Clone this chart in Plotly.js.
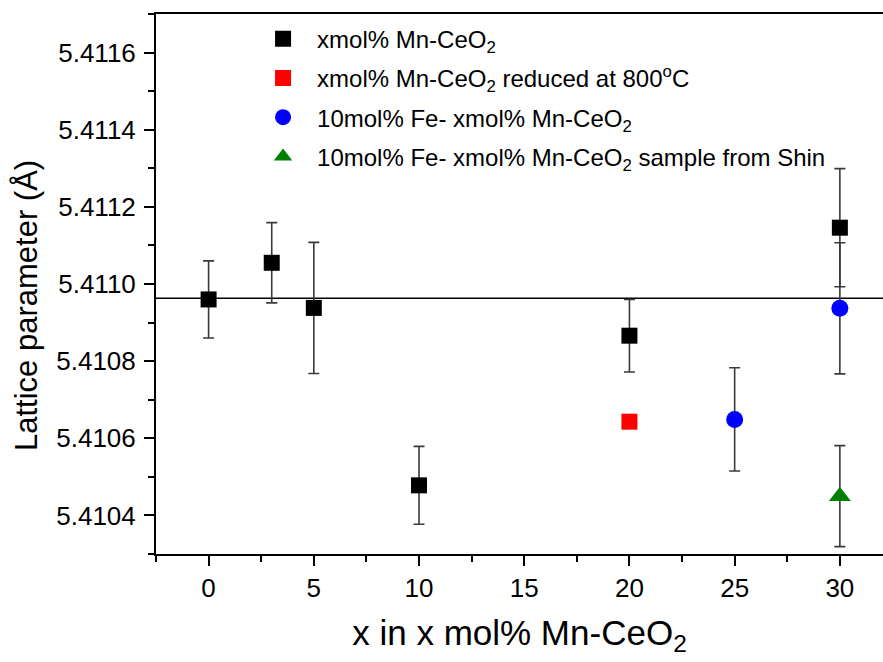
<!DOCTYPE html>
<html>
<head>
<meta charset="utf-8">
<script src="https://cdn.plot.ly/plotly-3.0.1.min.js"></script>
<style>html,body{margin:0;padding:0;background:#fff;}#chart{width:883px;height:662px;}</style>
</head>
<body>
<div id="chart"></div>
<script>
// Data
const mnX = [0, 3, 5, 10, 20, 30];
const mnY = [5.41096, 5.411055, 5.410938, 5.410478, 5.410866, 5.411146];
const mnErr = [0.0001, 0.000104, 0.00017, 0.000101, 0.000094, 0.000153];

const reducedX = [20];
const reducedY = [5.410643];

const feX = [25, 30];
const feY = [5.410649, 5.410937];
const feErr = [0.000134, 0.00017];

const shinX = [30];
const shinY = [5.41045];
const shinErr = [0.000131];

const refLineY = 5.410963;

const seriesNames = [
  "xmol% Mn-CeO<sub>2</sub>",
  "xmol% Mn-CeO<sub>2</sub> reduced at 800<sup>o</sup>C",
  "10mol% Fe- xmol% Mn-CeO<sub>2</sub>",
  "10mol% Fe- xmol% Mn-CeO<sub>2</sub> sample from Shin"
];
const xTitle = 'x in x mol% Mn-CeO<sub>2</sub>';
const yTitle = 'Lattice parameter (Å)';

const errStyle = {color: '#3a3a3a', thickness: 1.6, width: 5.5};

const traces = [
  {x: mnX, y: mnY, name: seriesNames[0], type: 'scatter', mode: 'markers', legendgroup: 'a',
   marker: {symbol: 'square', size: 16, color: '#000000'},
   error_y: Object.assign({type: 'data', array: mnErr, visible: true}, errStyle)},
  {x: reducedX, y: reducedY, name: seriesNames[1], type: 'scatter', mode: 'markers', legendgroup: 'b',
   marker: {symbol: 'square', size: 16, color: '#ff0000'}},
  {x: feX, y: feY, name: seriesNames[2], type: 'scatter', mode: 'markers', legendgroup: 'c',
   marker: {symbol: 'circle', size: 17, color: '#0000ff'},
   error_y: Object.assign({type: 'data', array: feErr, visible: true}, errStyle)},
  {x: shinX, y: shinY, name: seriesNames[3], type: 'scatter', mode: 'markers', legendgroup: 'd',
   marker: {symbol: 'triangle-up', size: 19, color: '#008000'},
   error_y: Object.assign({type: 'data', array: shinErr, visible: true}, errStyle)}
];

const font = 'Arial, "Liberation Sans", sans-serif';

const layout = {
  width: 883, height: 662,
  paper_bgcolor: '#ffffff', plot_bgcolor: '#ffffff',
  margin: {l: 156, r: 0, t: 14, b: 108},
  font: {family: font, color: '#000000'},
  showlegend: true,
  legend: {
    x: 0.128, y: 0.995, xanchor: 'left', yanchor: 'top',
    bgcolor: 'rgba(0,0,0,0)', borderwidth: 0,
    font: {family: font, size: 24, color: '#000000'},
    traceorder: 'grouped', tracegroupgap: 5, itemwidth: 58
  },
  xaxis: {
    range: [-2.5, 32.05], tickmode: 'linear', tick0: 0, dtick: 5,
    showgrid: false, zeroline: false,
    showline: true, linecolor: '#000000', linewidth: 2, mirror: true,
    ticks: 'outside', ticklen: 10, tickwidth: 2, tickcolor: '#000000',
    minor: {dtick: 2.5, tick0: 0, ticks: 'outside', ticklen: 6, tickwidth: 2, tickcolor: '#000000', showgrid: false},
    tickfont: {family: font, size: 26, color: '#000000'},
    title: {text: xTitle, font: {family: font, size: 35, color: '#000000'}, standoff: 18}
  },
  yaxis: {
    range: [5.4103, 5.4117], tickmode: 'linear', tick0: 5.4104, dtick: 0.0002, tickformat: '.4f',
    showgrid: false, zeroline: false,
    showline: true, linecolor: '#000000', linewidth: 2, mirror: false,
    ticks: 'outside', ticklen: 10, tickwidth: 2, tickcolor: '#000000',
    ticklabelstandoff: 3,
    minor: {dtick: 0.0001, tick0: 5.4104, ticks: 'outside', ticklen: 6, tickwidth: 2, tickcolor: '#000000', showgrid: false},
    tickfont: {family: font, size: 26, color: '#000000'}
  },
  annotations: [
    {text: yTitle, xref: 'paper', yref: 'paper', x: 0, y: 0.4593, xshift: -129,
     xanchor: 'center', yanchor: 'middle', textangle: -90, showarrow: false,
     font: {family: font, size: 31, color: '#000000'}}
  ],
  shapes: [
    {type: 'line', xref: 'paper', x0: 0, x1: 1, yref: 'y', y0: refLineY, y1: refLineY,
     line: {color: '#000000', width: 1.3}, layer: 'below'}
  ]
};

Plotly.newPlot('chart', traces, layout, {displayModeBar: false, staticPlot: true});
</script>
</body>
</html>
